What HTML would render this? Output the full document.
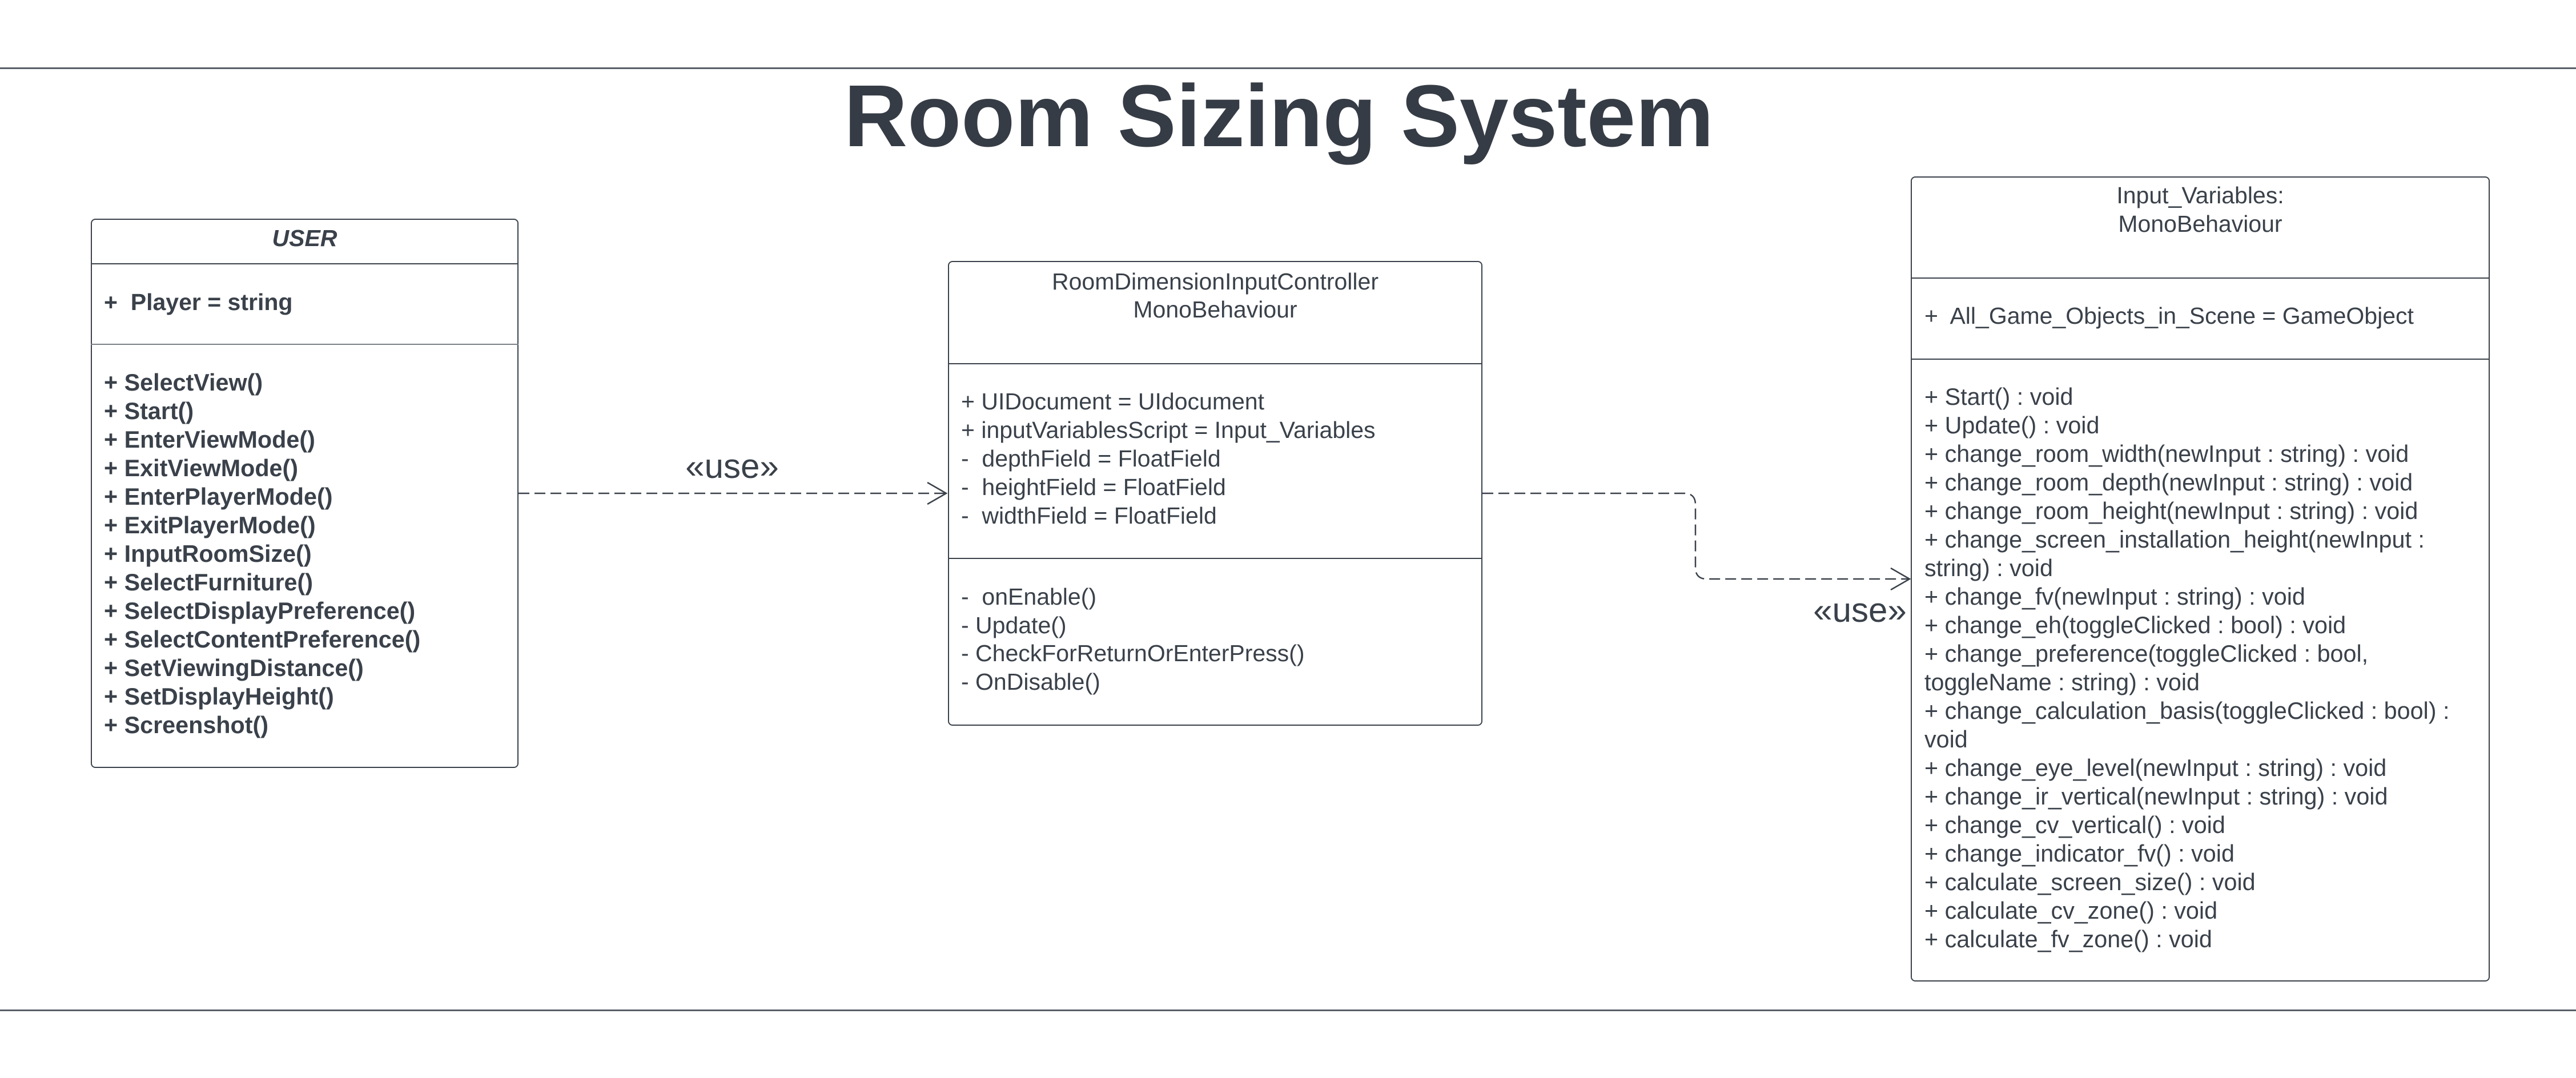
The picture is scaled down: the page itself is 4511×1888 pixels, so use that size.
<!DOCTYPE html>
<html><head><meta charset="utf-8"><style>
html,body{margin:0;padding:0;background:#fff;}
body{width:4511px;height:1888px;position:relative;overflow:hidden;font-family:"Liberation Sans",Arial,sans-serif;color:#3a414a;}
.hl{position:absolute;left:0;width:4511px;height:3px;background:#5a5f66;}
.box{position:absolute;border:2.5px solid #3a414a;border-radius:8px;box-sizing:border-box;background:#fff;}
.sep{position:absolute;height:2px;background:#3a414a;}
.t{position:absolute;white-space:nowrap;}
</style></head><body>
<div class="hl" style="top:118px"></div>
<div class="hl" style="top:1768px"></div>
<div class="t" style="left:-16px;width:4511px;text-align:center;top:118px;font-size:154px;font-weight:bold;line-height:170px;color:#363c45">Room Sizing System</div>

<!-- USER -->
<div class="box" style="left:159px;top:383px;width:749px;height:962px"></div>
<div class="sep" style="left:159px;top:461px;width:749px"></div>
<div class="sep" style="left:159px;top:602px;width:749px;background:#7a7f86;height:1.5px"></div>
<div class="t" style="left:159px;width:749px;text-align:center;top:392px;line-height:50px;font-size:41px;font-weight:bold;font-style:italic">USER</div>
<div class="t" style="left:182px;top:504px;line-height:50px;font-size:41px;font-weight:bold">+&nbsp; Player = string</div>
<div class="t" style="left:182px;top:645px;line-height:50px;font-size:41.3px;font-weight:bold">+ SelectView()<br>+ Start()<br>+ EnterViewMode()<br>+ ExitViewMode()<br>+ EnterPlayerMode()<br>+ ExitPlayerMode()<br>+ InputRoomSize()<br>+ SelectFurniture()<br>+ SelectDisplayPreference()<br>+ SelectContentPreference()<br>+ SetViewingDistance()<br>+ SetDisplayHeight()<br>+ Screenshot()</div>

<!-- Middle -->
<div class="box" style="left:1660px;top:457px;width:936px;height:814px"></div>
<div class="sep" style="left:1660px;top:636px;width:936px"></div>
<div class="sep" style="left:1660px;top:977px;width:936px"></div>
<div class="t" style="left:1660px;width:936px;text-align:center;top:469px;line-height:49px;font-size:41px">RoomDimensionInputController<br>MonoBehaviour</div>
<div class="t" style="left:1683px;top:678px;line-height:50px;font-size:41px">+ UIDocument = UIdocument<br>+ inputVariablesScript = Input_Variables<br>-&nbsp; depthField = FloatField<br>-&nbsp; heightField = FloatField<br>-&nbsp; widthField = FloatField</div>
<div class="t" style="left:1683px;top:1021px;line-height:49.7px;font-size:41px">-&nbsp; onEnable()<br>- Update()<br>- CheckForReturnOrEnterPress()<br>- OnDisable()</div>

<!-- Right -->
<div class="box" style="left:3346px;top:309px;width:1014px;height:1410px"></div>
<div class="sep" style="left:3346px;top:486px;width:1014px"></div>
<div class="sep" style="left:3346px;top:628px;width:1014px"></div>
<div class="t" style="left:3346px;width:1014px;text-align:center;top:317px;line-height:50px;font-size:41px">Input_Variables:<br>MonoBehaviour</div>
<div class="t" style="left:3370px;top:527px;line-height:52px;font-size:41px">+&nbsp; All_Game_Objects_in_Scene = GameObject</div>
<div class="t" style="left:3370px;top:670px;line-height:50px;font-size:41.3px">+ Start() : void<br>+ Update() : void<br>+ change_room_width(newInput : string) : void<br>+ change_room_depth(newInput : string) : void<br>+ change_room_height(newInput : string) : void<br>+ change_screen_installation_height(newInput :<br>string) : void<br>+ change_fv(newInput : string) : void<br>+ change_eh(toggleClicked : bool) : void<br>+ change_preference(toggleClicked : bool,<br>toggleName : string) : void<br>+ change_calculation_basis(toggleClicked : bool) :<br>void<br>+ change_eye_level(newInput : string) : void<br>+ change_ir_vertical(newInput : string) : void<br>+ change_cv_vertical() : void<br>+ change_indicator_fv() : void<br>+ calculate_screen_size() : void<br>+ calculate_cv_zone() : void<br>+ calculate_fv_zone() : void</div>

<!-- connectors -->
<svg style="position:absolute;left:0;top:0" width="4511" height="1888">
<g fill="none" stroke="#3a414a" stroke-width="2.5">
<path d="M908 864 H1657" stroke-dasharray="19 9"/>
<path d="M1624 845 L1657 864 L1624 883"/>
<path d="M2596 864 H2949 Q2969 864 2969 884 V994 Q2969 1014 2989 1014 H3344" stroke-dasharray="19 9"/>
<path d="M3311 995 L3344 1014 L3311 1033"/>
</g>
<text x="1282" y="837" font-family="Liberation Sans, sans-serif" font-size="60" fill="#3a414a" text-anchor="middle">«use»</text>
<text x="3257" y="1089" font-family="Liberation Sans, sans-serif" font-size="60" fill="#3a414a" text-anchor="middle">«use»</text>
</svg>
</body></html>
